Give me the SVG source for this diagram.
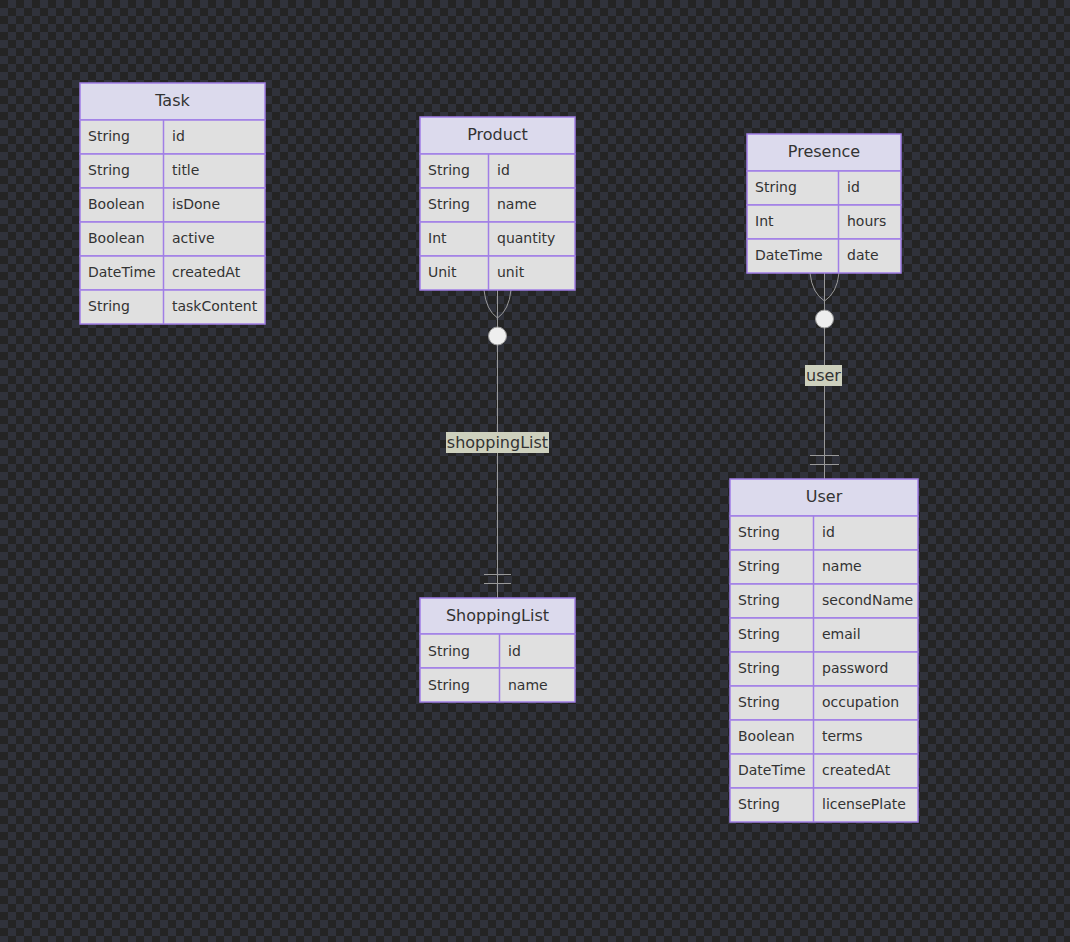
<svg xmlns="http://www.w3.org/2000/svg" width="1070" height="942" viewBox="0 0 1070 942">
<defs>
<pattern id="chk" x="0" y="0" width="16" height="16" patternUnits="userSpaceOnUse">
<rect width="16" height="16" fill="#242424"/>
<rect x="8" y="0" width="8" height="8" fill="#30323b"/>
<rect x="0" y="8" width="8" height="8" fill="#30323b"/>
</pattern>
</defs>
<style>
.hd{fill:#dcdaed;stroke:#a07ee6;stroke-width:1.5}
.rw{fill:#e0e0e0;stroke:#a07ee6;stroke-width:1.5}
.dv{stroke:#a07ee6;stroke-width:1.5}
.tt{font-family:"DejaVu Sans",sans-serif;font-size:16px;fill:#333;text-anchor:middle;dominant-baseline:central}
.at{font-family:"DejaVu Sans",sans-serif;font-size:14px;fill:#333;dominant-baseline:central}
.ln{stroke:#999;stroke-width:1;fill:none}
.lb{fill:#cdd0bd}
.lt{font-family:"DejaVu Sans",sans-serif;font-size:16px;fill:#333;text-anchor:middle;dominant-baseline:central}
.cir{fill:#eeeeee;stroke:#999;stroke-width:1}
</style>
<rect width="1070" height="942" fill="url(#chk)"/>

<g id="connectors">
<g id="product-shoppinglist">
<line class="ln" x1="497.5" y1="290" x2="497.5" y2="598"/>
<path class="ln" d="M484,290 Q486,310 497.5,318 M511,290 Q509,310 497.5,318"/>
<circle class="cir" cx="497.5" cy="336" r="9"/>
<line class="ln" x1="484" y1="574.5" x2="511" y2="574.5"/>
<line class="ln" x1="484" y1="583.5" x2="511" y2="583.5"/>
<rect class="lb" x="446" y="432" width="103" height="21"/>
<text class="lt" x="497.5" y="442">shoppingList</text>
</g>
<g id="presence-user">
<line class="ln" x1="824.5" y1="273" x2="824.5" y2="479"/>
<path class="ln" d="M810,273 Q812,293 824.5,301 M839,273 Q837,293 824.5,301"/>
<circle class="cir" cx="824.5" cy="319" r="9"/>
<line class="ln" x1="810" y1="455.5" x2="839" y2="455.5"/>
<line class="ln" x1="810" y1="464.5" x2="839" y2="464.5"/>
<rect class="lb" x="805" y="365" width="37" height="21"/>
<text class="lt" x="823.5" y="375">user</text>
</g>
</g>

<g id="Task">
<rect class="hd" x="80" y="83" width="185" height="37"/>
<text class="tt" x="172.5" y="100">Task</text>
<rect class="rw" x="80" y="120" width="185" height="34"/>
<rect class="rw" x="80" y="154" width="185" height="34"/>
<rect class="rw" x="80" y="188" width="185" height="34"/>
<rect class="rw" x="80" y="222" width="185" height="34"/>
<rect class="rw" x="80" y="256" width="185" height="34"/>
<rect class="rw" x="80" y="290" width="185" height="34"/>
<line class="dv" x1="163.5" y1="120" x2="163.5" y2="324"/>
<text class="at" x="88" y="136">String</text><text class="at" x="172" y="136">id</text>
<text class="at" x="88" y="170">String</text><text class="at" x="172" y="170">title</text>
<text class="at" x="88" y="204">Boolean</text><text class="at" x="172" y="204">isDone</text>
<text class="at" x="88" y="238">Boolean</text><text class="at" x="172" y="238">active</text>
<text class="at" x="88" y="272">DateTime</text><text class="at" x="172" y="272">createdAt</text>
<text class="at" x="88" y="306">String</text><text class="at" x="172" y="306">taskContent</text>
</g>

<g id="Product">
<rect class="hd" x="420" y="117" width="155" height="37"/>
<text class="tt" x="497.5" y="134">Product</text>
<rect class="rw" x="420" y="154" width="155" height="34"/>
<rect class="rw" x="420" y="188" width="155" height="34"/>
<rect class="rw" x="420" y="222" width="155" height="34"/>
<rect class="rw" x="420" y="256" width="155" height="34"/>
<line class="dv" x1="488.5" y1="154" x2="488.5" y2="290"/>
<text class="at" x="428" y="170">String</text><text class="at" x="497" y="170">id</text>
<text class="at" x="428" y="204">String</text><text class="at" x="497" y="204">name</text>
<text class="at" x="428" y="238">Int</text><text class="at" x="497" y="238">quantity</text>
<text class="at" x="428" y="272">Unit</text><text class="at" x="497" y="272">unit</text>
</g>

<g id="Presence">
<rect class="hd" x="747" y="134" width="154" height="37"/>
<text class="tt" x="824" y="151">Presence</text>
<rect class="rw" x="747" y="171" width="154" height="34"/>
<rect class="rw" x="747" y="205" width="154" height="34"/>
<rect class="rw" x="747" y="239" width="154" height="34"/>
<line class="dv" x1="838.5" y1="171" x2="838.5" y2="273"/>
<text class="at" x="755" y="187">String</text><text class="at" x="847" y="187">id</text>
<text class="at" x="755" y="221">Int</text><text class="at" x="847" y="221">hours</text>
<text class="at" x="755" y="255">DateTime</text><text class="at" x="847" y="255">date</text>
</g>

<g id="ShoppingList">
<rect class="hd" x="420" y="598" width="155" height="36"/>
<text class="tt" x="497.5" y="615">ShoppingList</text>
<rect class="rw" x="420" y="634" width="155" height="34"/>
<rect class="rw" x="420" y="668" width="155" height="34"/>
<line class="dv" x1="499.5" y1="634" x2="499.5" y2="702"/>
<text class="at" x="428" y="651">String</text><text class="at" x="508" y="651">id</text>
<text class="at" x="428" y="685">String</text><text class="at" x="508" y="685">name</text>
</g>

<g id="User">
<rect class="hd" x="730" y="479" width="188" height="37"/>
<text class="tt" x="824" y="496">User</text>
<rect class="rw" x="730" y="516" width="188" height="34"/>
<rect class="rw" x="730" y="550" width="188" height="34"/>
<rect class="rw" x="730" y="584" width="188" height="34"/>
<rect class="rw" x="730" y="618" width="188" height="34"/>
<rect class="rw" x="730" y="652" width="188" height="34"/>
<rect class="rw" x="730" y="686" width="188" height="34"/>
<rect class="rw" x="730" y="720" width="188" height="34"/>
<rect class="rw" x="730" y="754" width="188" height="34"/>
<rect class="rw" x="730" y="788" width="188" height="34"/>
<line class="dv" x1="813.5" y1="516" x2="813.5" y2="822"/>
<text class="at" x="738" y="532">String</text><text class="at" x="822" y="532">id</text>
<text class="at" x="738" y="566">String</text><text class="at" x="822" y="566">name</text>
<text class="at" x="738" y="600">String</text><text class="at" x="822" y="600">secondName</text>
<text class="at" x="738" y="634">String</text><text class="at" x="822" y="634">email</text>
<text class="at" x="738" y="668">String</text><text class="at" x="822" y="668">password</text>
<text class="at" x="738" y="702">String</text><text class="at" x="822" y="702">occupation</text>
<text class="at" x="738" y="736">Boolean</text><text class="at" x="822" y="736">terms</text>
<text class="at" x="738" y="770">DateTime</text><text class="at" x="822" y="770">createdAt</text>
<text class="at" x="738" y="804">String</text><text class="at" x="822" y="804">licensePlate</text>
</g>
</svg>
